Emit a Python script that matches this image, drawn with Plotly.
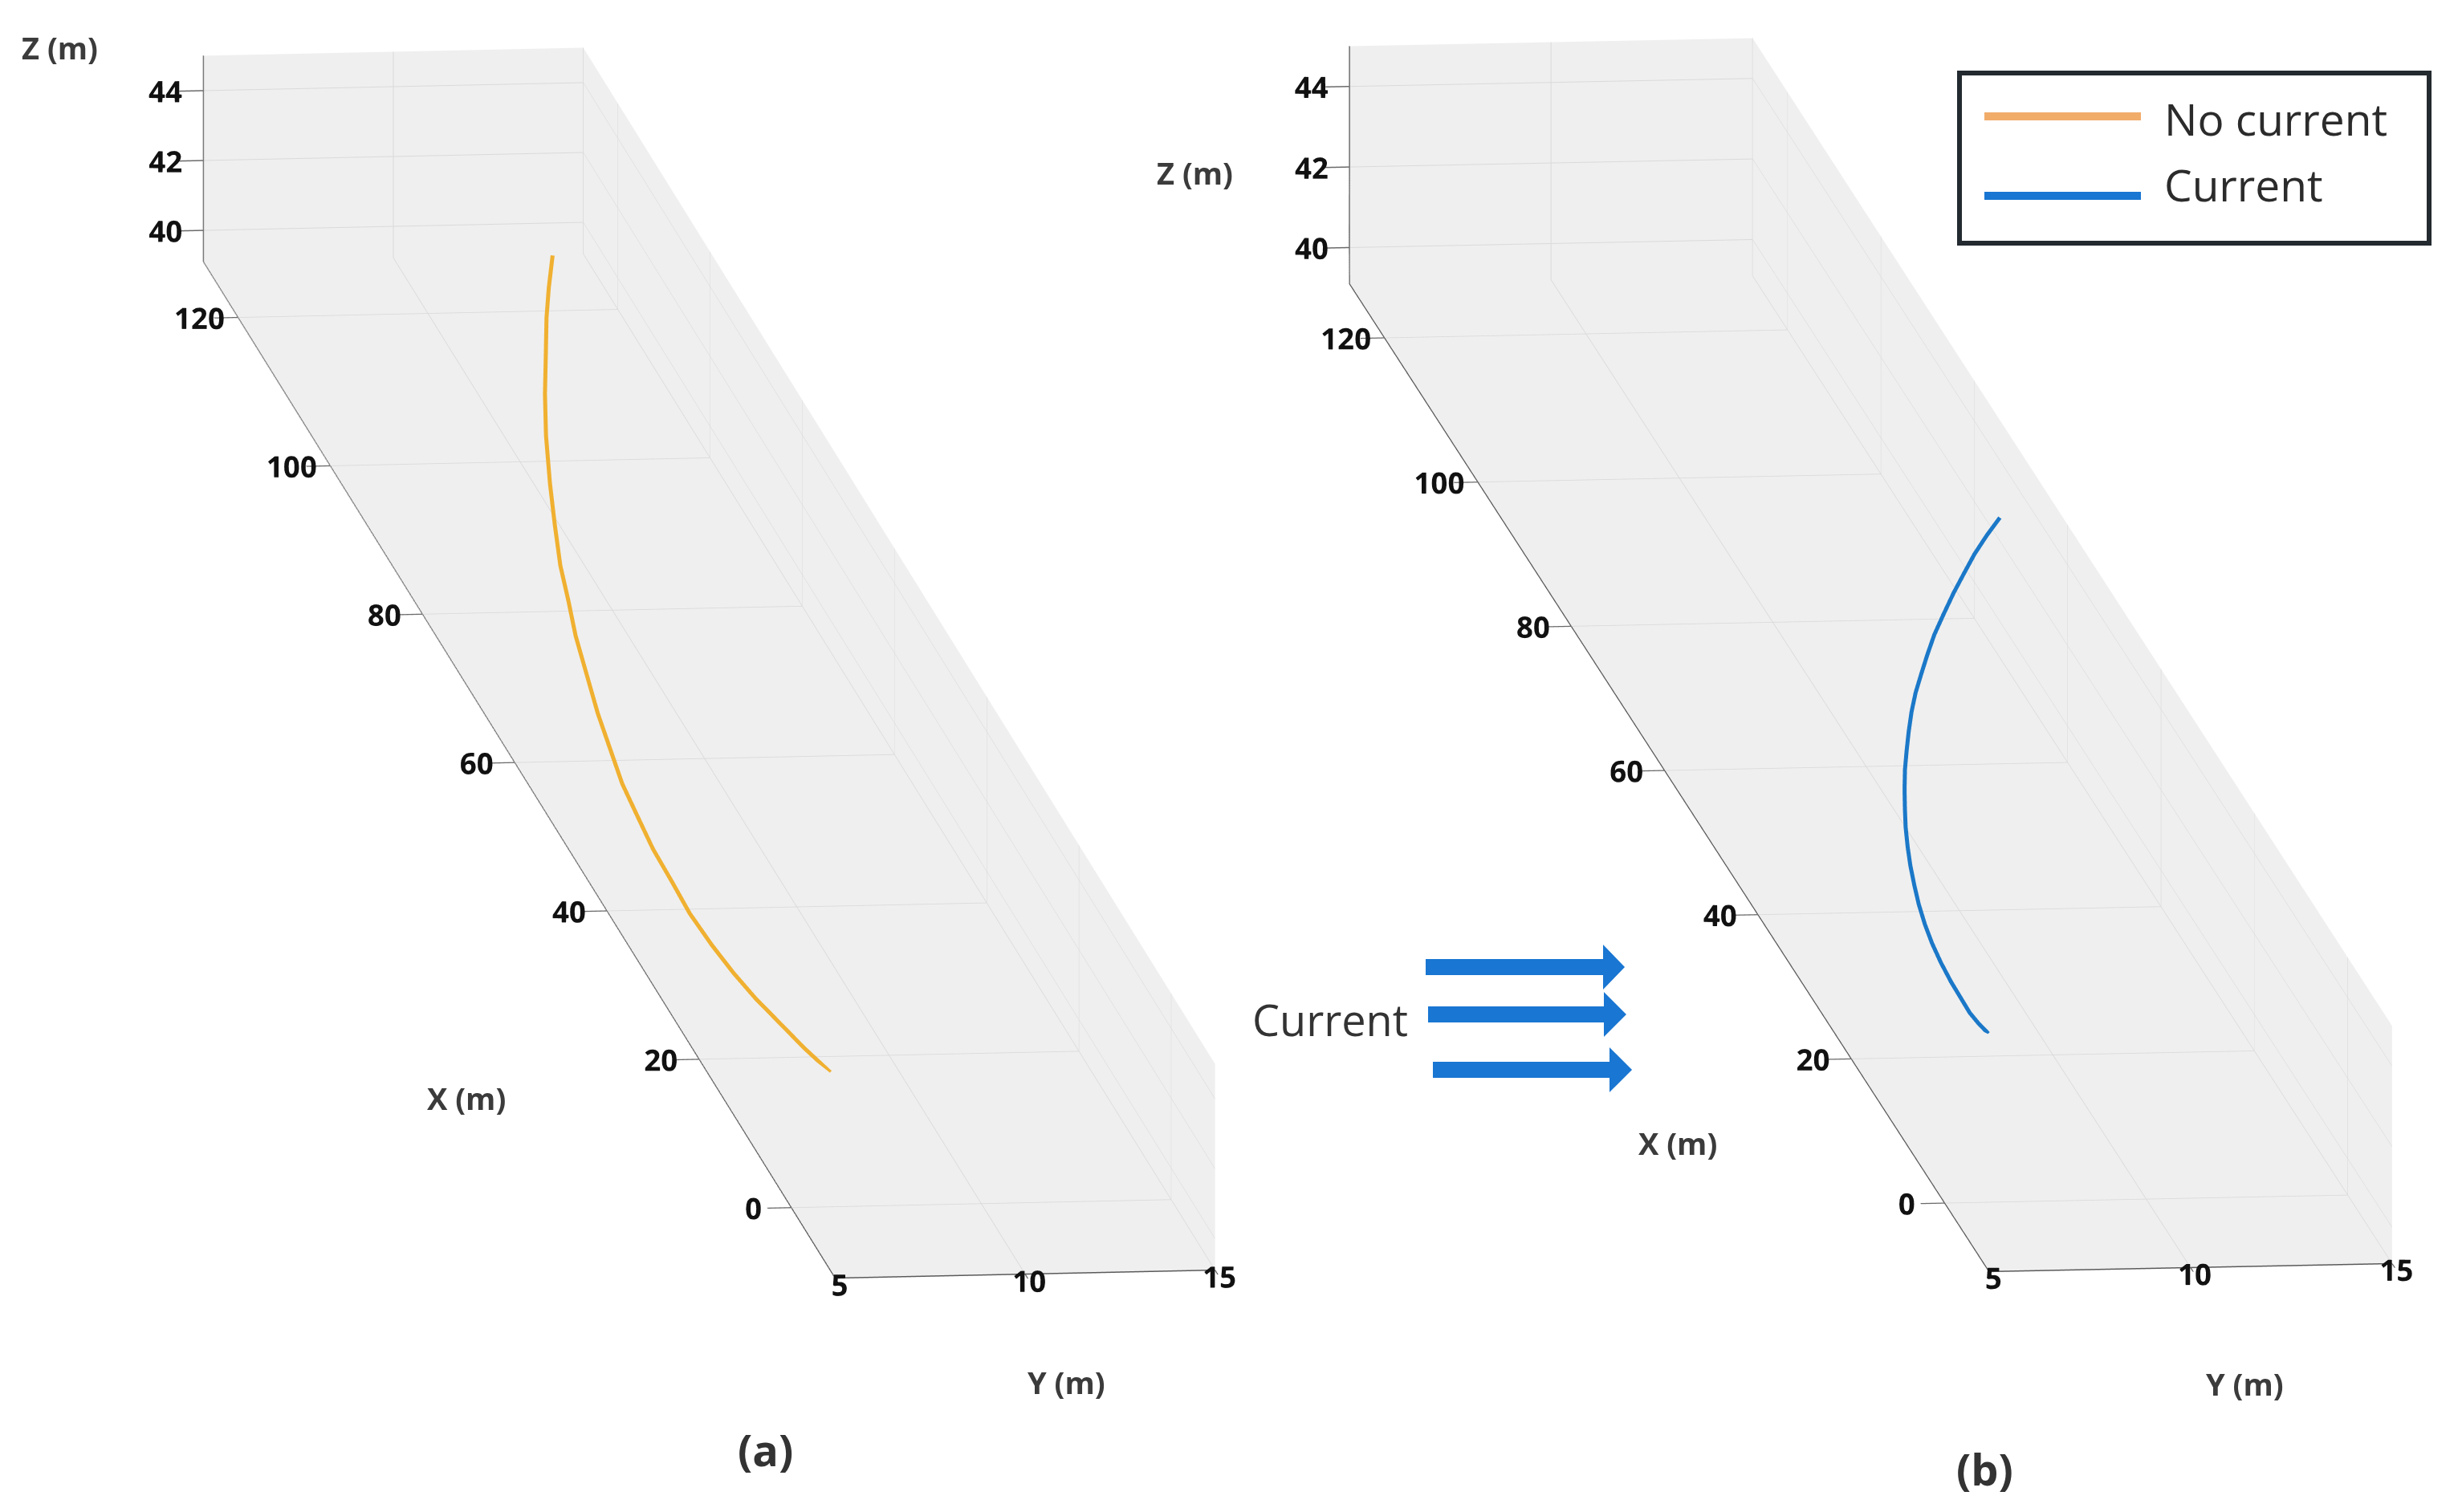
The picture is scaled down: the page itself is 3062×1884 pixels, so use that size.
import plotly.graph_objects as go

W, H = 3062, 1884

# ---- data ----
x_nc = [117.6, 113.65, 110.1, 105.8, 100.8, 95.8, 90.0, 85.0, 80.0, 75.7, 71.4, 66.7, 62.0,
        57.7, 53.4, 49.4, 45.4, 41.4, 37.5, 33.6, 30.2, 27.1, 24.4, 20.9, 17.9]
y_nc = [12.99, 12.41, 11.92, 11.38, 10.75, 10.17, 9.57, 9.09, 8.63, 8.32, 7.99, 7.71, 7.43,
        7.23, 7.03, 6.95, 6.87, 6.88, 6.88, 6.99, 7.14, 7.34, 7.57, 7.88, 8.20]
z_nc = [41.20, 41.12, 41.04, 40.95, 40.85, 40.74, 40.62, 40.51, 40.41, 40.32, 40.23, 40.13, 40.03,
        39.94, 39.85, 39.76, 39.68, 39.60, 39.51, 39.43, 39.36, 39.29, 39.24, 39.16, 39.10]

x_c = [72.2, 70.6, 68.8, 67.0, 65.1, 63.1, 61.2, 59.3, 57.5, 55.7, 53.9, 52.0, 50.2, 48.4, 46.5,
       44.7, 42.9, 41.0, 39.2, 37.3, 35.5, 33.6, 31.8, 29.9, 28.1, 26.6, 25.1, 24.0, 23.1]
y_c = [14.73, 14.23, 13.71, 13.24, 12.76, 12.28, 11.83, 11.44, 11.08, 10.73, 10.42, 10.13, 9.87,
       9.62, 9.39, 9.19, 9.00, 8.83, 8.69, 8.57, 8.47, 8.40, 8.37, 8.37, 8.41, 8.47, 8.53, 8.63, 8.76]
z_c = [43.00, 42.87, 42.73, 42.58, 42.44, 42.28, 42.12, 41.98, 41.83, 41.69, 41.54, 41.40, 41.25,
       41.11, 40.96, 40.82, 40.67, 40.53, 40.38, 40.23, 40.09, 39.94, 39.79, 39.65, 39.50, 39.38,
       39.26, 39.18, 39.10]

x_ticks = [0, 20, 40, 60, 80, 100, 120]
y_ticks = [5, 10, 15]
z_ticks = [40, 42, 44]
x_range = [-9.5, 127.5]
y_range = [15, 5]
z_range = [39.1, 45.0]

series_names = ["No current", "Current"]
legend_line_colors = ["#F2AC6A", "#1976D2"]
curve_colors = ["#F0B030", "#1B78C8"]


def px(x):
    return x / W


def py(y):
    return 1 - y / H


fig = go.Figure()
fig.add_trace(go.Scatter3d(x=x_nc, y=y_nc, z=z_nc, mode="lines", name=series_names[0],
                           line=dict(color=curve_colors[0], width=10), scene="scene",
                           showlegend=False))
fig.add_trace(go.Scatter3d(x=x_c, y=y_c, z=z_c, mode="lines", name=series_names[1],
                           line=dict(color=curve_colors[1], width=10), scene="scene2",
                           showlegend=False))


def axis(rng, tv):
    return dict(
        range=rng, tickvals=tv, title=dict(text=""),
        showline=True, linecolor="#5a5a5a", linewidth=3,
        ticks="outside", ticklen=30, tickwidth=3, tickcolor="#6a6a6a",
        tickangle=0,
        tickfont=dict(family="Open Sans", size=21, color="#111111", weight="bold"),
        gridcolor="#dadada", gridwidth=2,
        showbackground=True, backgroundcolor="#efefef",
        zeroline=False, showspikes=False,
    )


def scene(domx, domy, ar, eye):
    return dict(
        domain=dict(x=domx, y=domy),
        xaxis=axis(x_range, x_ticks),
        yaxis=axis(y_range, y_ticks),
        zaxis=axis(z_range, z_ticks),
        aspectmode="manual",
        aspectratio=dict(x=ar[0], y=ar[1], z=ar[2]),
        camera=dict(eye=dict(x=eye[0], y=eye[1], z=eye[2]),
                    up=dict(x=0, y=0, z=1), center=dict(x=0, y=0, z=0),
                    projection=dict(type="orthographic")),
    )


da = 10.0
db = 10.0
ka = 0.5767
kb = 0.6194
fig.update_layout(
    width=W, height=H, margin=dict(l=0, r=0, t=0, b=0),
    paper_bgcolor="white", showlegend=False,
    scene=scene([0, 0.5772], [0.1234, 1.0], (14.51 * ka, 1 * ka, 0.5485 * ka),
                (-0.9764 * da, 0.1119 * da, 0.1844 * da)),
    scene2=scene([0.5222, 1.0], [0.1338, 1.0], (13.98 * kb, 1 * kb, 0.595 * kb),
                 (-0.97846 * db, 0.11103 * db, 0.17535 * db)),
)

# axis titles (placed as in the reference)
title_font = dict(family="Open Sans", size=38, color="#3b3b3b", weight="bold")
axis_titles = [("Z (m)", 74, 59), ("X (m)", 581, 1368), ("Y (m)", 1328, 1722),
               ("Z (m)", 1488, 215), ("X (m)", 2090, 1424), ("Y (m)", 2796, 1724)]
for t, xx, yy in axis_titles:
    fig.add_annotation(text=t, x=px(xx), y=py(yy), xref="paper", yref="paper",
                       showarrow=False, font=title_font, xanchor="center", yanchor="middle")

# panel labels
for t, xx, yy in [("(a)", 953, 1806), ("(b)", 2472, 1830)]:
    fig.add_annotation(text=t, x=px(xx), y=py(yy), xref="paper", yref="paper",
                       showarrow=False,
                       font=dict(family="Open Sans", size=54, color="#333333", weight="bold"),
                       xanchor="center", yanchor="middle")

# current annotation + arrows
fig.add_annotation(text="Current", x=px(1657), y=py(1270), xref="paper", yref="paper",
                   showarrow=False, font=dict(family="Open Sans", size=54, color="#333333"),
                   xanchor="center", yanchor="middle")
arrows = [(1776, 1997, 2024, 1205), (1779, 1998, 2026, 1264), (1785, 2005, 2033, 1333)]
hs, hh = 10, 28
for x0, x1, xt, yc in arrows:
    pts = [(x0, yc - hs), (x1, yc - hs), (x1, yc - hh), (xt, yc), (x1, yc + hh),
           (x1, yc + hs), (x0, yc + hs)]
    path = "M " + " L ".join(f"{px(a):.5f},{py(b):.5f}" for a, b in pts) + " Z"
    fig.add_shape(type="path", path=path, xref="paper", yref="paper",
                  fillcolor="#1976D2", line=dict(width=0), layer="above")

# legend box (drawn)
fig.add_shape(type="rect", x0=px(2441), x1=px(3026), y0=py(303), y1=py(91),
              xref="paper", yref="paper", line=dict(color="#232a30", width=6),
              fillcolor="white", layer="above")
leg_rows = [(145, 147), (244, 229)]
for i, (ly, ty) in enumerate(leg_rows):
    fig.add_shape(type="line", x0=px(2472), x1=px(2667), y0=py(ly), y1=py(ly),
                  xref="paper", yref="paper",
                  line=dict(color=legend_line_colors[i], width=10), layer="above")
    fig.add_annotation(text=series_names[i], x=px(2694), y=py(ty), xref="paper", yref="paper",
                       showarrow=False, xanchor="left", yanchor="middle",
                       font=dict(family="Open Sans", size=55, color="#2b2b2b"))

fig.write_html("out.html", config={"displayModeBar": False},
               post_script="document.body.style.margin='0px';")
